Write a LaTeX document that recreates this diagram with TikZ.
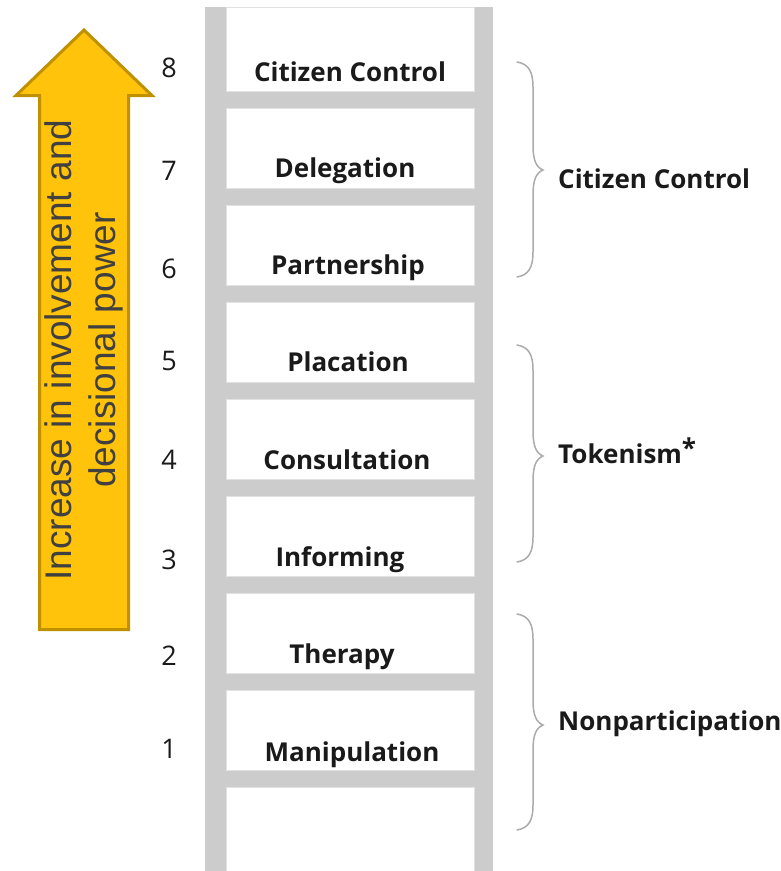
\documentclass[tikz,border=0pt]{standalone}
\usepackage{fontspec}
\setmainfont{Open Sans}
\newfontfamily\arialfont{Liberation Sans}
\definecolor{railgray}{HTML}{CCCCCC}
\definecolor{boxedge}{HTML}{E2E2E2}
\definecolor{arrowfill}{HTML}{FFC30B}
\definecolor{arrowedge}{HTML}{BF9000}
\definecolor{arrowtext}{HTML}{404040}
\definecolor{bracegray}{HTML}{ABABAB}
\definecolor{labeltext}{HTML}{1A1A1A}
\tikzset{
  rungtext/.style={font=\fontsize{26}{31}\selectfont\bfseries, text=labeltext, anchor=base, inner sep=0pt},
  grouptext/.style={font=\fontsize{26}{31}\selectfont\bfseries, text=labeltext, anchor=base west, inner sep=0pt},
  numtext/.style={font=\fontsize{27}{32}\selectfont, text=labeltext, anchor=base, inner sep=0pt},
  bracestyle/.style={draw=bracegray, line width=1.5pt, line cap=round},
  whitebox/.style={fill=white, draw=boxedge, line width=1pt},
}
\begin{document}
\begin{tikzpicture}[x=1pt,y=-1pt]
\useasboundingbox (0,0) rectangle (780,871);
% ladder
\fill[railgray] (205,7) rectangle (493,871);
\foreach \ya/\yb in {7/91,108/188,205/285,302/382,399/479,496/576,593/673,690/770,787/871}
  \draw[whitebox] (226.5,\ya) rectangle (474.5,\yb);
\fill[railgray] (205,7) rectangle (226,871);
\fill[railgray] (475,7) rectangle (493,871);
% rung labels
\node[rungtext] (l8) at (350,81) {Citizen Control};
\node[rungtext] (l7) at (345,177) {Delegation};
\node[rungtext] (l6) at (348,274) {Partnership};
\node[rungtext] (l5) at (348,371) {Placation};
\node[rungtext] (l4) at (347,469) {Consultation};
\node[rungtext] (l3) at (340,566) {Informing};
\node[rungtext] (l2) at (342,663) {Therapy};
\node[rungtext] (l1) at (352,761) {Manipulation};
% numbers
\node[numtext] (n8) at (169,77) {8};
\node[numtext] (n7) at (169,180) {7};
\node[numtext] (n6) at (169,278) {6};
\node[numtext] (n5) at (169,370) {5};
\node[numtext] (n4) at (169,469) {4};
\node[numtext] (n3) at (169,569) {3};
\node[numtext] (n2) at (169,665) {2};
\node[numtext] (n1) at (169,758) {1};
% braces
\foreach \ya/\yb/\yc in {62/170/277, 345/456/562, 614/725/830}
  \draw[bracestyle] (517,\ya) .. controls (529,\ya+2) and (533,\ya+10) .. (533,\ya+25)
     -- (533,\yb-25) .. controls (533,\yb-10) and (536,\yb-3) .. (543,\yb)
     .. controls (536,\yb+3) and (533,\yb+10) .. (533,\yb+25)
     -- (533,\yc-25) .. controls (533,\yc-10) and (529,\yc-2) .. (517,\yc);
% group labels
\node[grouptext] (g3) at (558,188) {Citizen Control};
\node[grouptext] (g2) at (558,463) {Tokenism\raisebox{6pt}{*}};
\node[grouptext] (g1) at (558,730) {Nonparticipation};
% arrow
\draw[fill=arrowfill, draw=arrowedge, line width=3pt, line join=miter]
  (84,30) -- (152,95.5) -- (128.5,95.5) -- (128.5,629.5) -- (39.5,629.5)
  -- (39.5,95.5) -- (16,95.5) -- cycle;
\node[rotate=90, align=center, text=arrowtext, inner sep=0pt,
      font=\arialfont\fontsize{37}{44.5}\selectfont] (arrowlabel) at (84,350)
  {Increase in involvement and\\decisional power};
\end{tikzpicture}
\end{document}
